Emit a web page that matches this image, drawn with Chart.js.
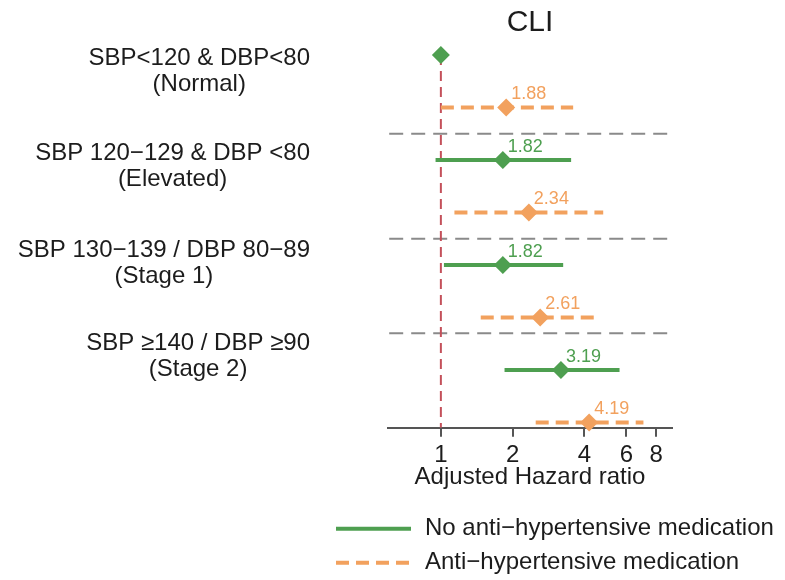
<!DOCTYPE html>
<html><head><meta charset="utf-8">
<script src="https://cdn.jsdelivr.net/npm/chart.js@4"></script>
<style>html,body{margin:0;padding:0;background:#fff}#wrap{width:785px;height:580px}</style>
</head><body><div id="wrap"><canvas id="c" width="785" height="580"></canvas></div>
<script>
// ---------- data ----------
const chartTitle = "CLI";
const xAxisTitle = "Adjusted Hazard ratio";
const groupLabels = [
  ["SBP<120 & DBP<80", "(Normal)"],
  ["SBP 120\u2212129 & DBP <80", "(Elevated)"],
  ["SBP 130\u2212139 / DBP 80\u221289", "(Stage 1)"],
  ["SBP \u2265140 / DBP \u226590", "(Stage 2)"]
];
const groupLabelRows = [1.31, 3.13, 4.97, 6.75];
const seriesNames = ["No anti\u2212hypertensive medication", "Anti\u2212hypertensive medication"];
const noMedRows  = [1, 3, 5, 7];
const noMedHR    = [1.00, 1.82, 1.82, 3.19];
const noMedLower = [null, 0.95, 1.03, 1.85];
const noMedUpper = [null, 3.52, 3.26, 5.62];
const medRows  = [2, 4, 6, 8];
const medHR    = [1.88, 2.34, 2.61, 4.19];
const medLower = [1.00, 1.14, 1.47, 2.50];
const medUpper = [3.59, 4.80, 4.59, 7.08];
const xTicks = [1, 2, 4, 6, 8];
const separatorRows = [2.5, 4.5, 6.3];
const referenceHR = 1;

// ---------- styles ----------
const GREEN = "#4E9F50", ORANGE = "#F2A15E", RED = "#C4505A", GRAY = "#8a8a8a", TEXT = "#1c1c1c";
const FONT = '"Liberation Sans", Arial, Helvetica, sans-serif';
const X_MIN = 0.607, X_MAX = 9.33, Y_MIN = 0.677, Y_MAX = 8.1;

function segments(rows, lo, hi) {
  const out = [];
  rows.forEach((r, i) => {
    if (lo[i] == null || hi[i] == null) return;
    out.push({x: lo[i], y: r}, {x: hi[i], y: r}, {x: hi[i], y: null});
  });
  return out;
}
function points(rows, hr) { return rows.map((r, i) => ({x: hr[i], y: r})); }

const datasets = [
  { label: seriesNames[0] + " HR", data: points(noMedRows, noMedHR), showLine: false,
    pointStyle: 'rectRot', pointRadius: 9, pointBackgroundColor: GREEN, pointBorderWidth: 0, order: 0, clip: false },
  { label: seriesNames[1] + " HR", data: points(medRows, medHR), showLine: false,
    pointStyle: 'rectRot', pointRadius: 9, pointBackgroundColor: ORANGE, pointBorderWidth: 0, order: 0, clip: false },
  { label: seriesNames[0], data: segments(noMedRows, noMedLower, noMedUpper), showLine: true, spanGaps: false,
    borderColor: GREEN, borderWidth: 4, pointRadius: 0, order: 1, clip: false },
  { label: seriesNames[1], data: segments(medRows, medLower, medUpper), showLine: true, spanGaps: false,
    borderColor: ORANGE, borderWidth: 4, borderDash: [13, 7], pointRadius: 0, order: 1, clip: false },
  { label: "reference", data: [{x: referenceHR, y: noMedRows[0]}, {x: referenceHR, y: Y_MAX}], showLine: true,
    borderColor: RED, borderWidth: 2, borderDash: [10, 6], pointRadius: 0, order: 2 },
  { label: "separators", data: segments(separatorRows, separatorRows.map(() => X_MIN), separatorRows.map(() => X_MAX)),
    showLine: true, spanGaps: false, borderColor: GRAY, borderWidth: 2, borderDash: [14, 8], pointRadius: 0, order: 3 }
];

const textPlugin = {
  id: 'forestText',
  afterDraw(chart) {
    const {ctx} = chart;
    const x = chart.scales.x, y = chart.scales.y;
    ctx.save();
    // group labels
    ctx.font = '24px ' + FONT;
    ctx.fillStyle = TEXT;
    ctx.textBaseline = 'middle';
    ctx.textAlign = 'center';
    const labelRight = x.left - 78, lineGap = 26;
    groupLabels.forEach((lines, i) => {
      const w = Math.max(...lines.map(t => ctx.measureText(t).width));
      const cx = labelRight - w / 2;
      const cy = y.getPixelForValue(groupLabelRows[i]);
      lines.forEach((t, j) => ctx.fillText(t, cx, cy + (j - (lines.length - 1) / 2) * lineGap));
    });
    // value labels
    ctx.font = '18px ' + FONT;
    ctx.textAlign = 'left';
    ctx.textBaseline = 'alphabetic';
    const lab = (rows, hr, lo, col) => rows.forEach((r, i) => {
      if (lo[i] == null) return;
      ctx.fillStyle = col;
      ctx.fillText(hr[i].toFixed(2), x.getPixelForValue(hr[i]) + 5, y.getPixelForValue(r) - 8);
    });
    lab(noMedRows, noMedHR, noMedLower, GREEN);
    lab(medRows, medHR, medLower, ORANGE);
    // legend
    const lx = x.left - 52, lw = 75, ty = [y.bottom + 101, y.bottom + 135];
    const styles = [datasets[2], datasets[3]];
    styles.forEach((d, i) => {
      ctx.beginPath();
      ctx.strokeStyle = d.borderColor;
      ctx.lineWidth = d.borderWidth;
      ctx.setLineDash(d.borderDash || []);
      ctx.moveTo(lx, ty[i]); ctx.lineTo(lx + lw, ty[i]);
      ctx.stroke();
      ctx.setLineDash([]);
      ctx.font = '24px ' + FONT;
      ctx.fillStyle = TEXT;
      ctx.textBaseline = 'middle';
      ctx.fillText(seriesNames[i], lx + lw + 14, ty[i]);
    });
    ctx.restore();
  }
};

new Chart(document.getElementById('c'), {
  type: 'scatter',
  data: { datasets },
  options: {
    responsive: false, animation: false, devicePixelRatio: 1,
    layout: { padding: { left: 388, right: 113, top: 0, bottom: 88.3 } },
    plugins: {
      legend: { display: false },
      tooltip: { enabled: false },
      title: { display: true, text: chartTitle, fullSize: false, color: TEXT,
               font: { family: FONT, size: 30, weight: 'normal', lineHeight: 1 }, padding: { top: 8, bottom: 0 } }
    },
    scales: {
      x: {
        type: 'logarithmic', min: X_MIN, max: X_MAX,
        afterBuildTicks(axis) { axis.ticks = xTicks.map(v => ({ value: v })); },
        afterFit(axis) { axis.height = 64; },
        ticks: { callback: v => String(v), color: TEXT, padding: 4, maxRotation: 0, autoSkip: false,
                 font: { family: FONT, size: 24 } },
        grid: { drawOnChartArea: false, drawTicks: true, tickLength: 9, color: '#555', lineWidth: 2 },
        border: { display: true, color: '#555', width: 2 },
        title: { display: true, text: xAxisTitle, color: TEXT, padding: { top: 0, bottom: 0 },
                 font: { family: FONT, size: 24, lineHeight: 1.2 } }
      },
      y: { type: 'linear', reverse: true, min: Y_MIN, max: Y_MAX, display: false }
    }
  },
  plugins: [textPlugin]
});
</script></body></html>
